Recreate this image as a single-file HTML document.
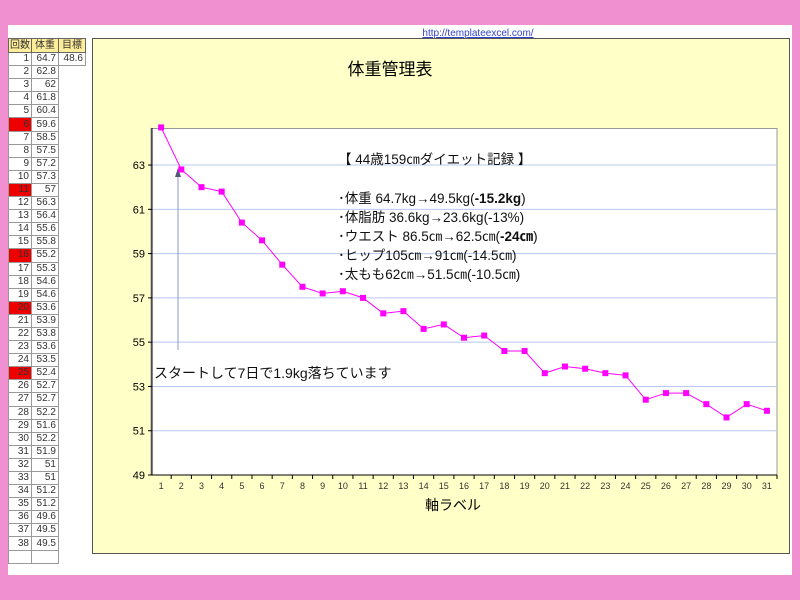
<!DOCTYPE html>
<html><head><meta charset="utf-8"><style>
body{margin:0;width:800px;height:600px;background:#f090d0;position:relative;overflow:hidden;font-family:"Liberation Sans","Noto Sans CJK JP",sans-serif}
#white{position:absolute;left:8px;top:25px;width:784px;height:550px;background:#fff}
table{position:absolute;left:8px;top:38px;border-collapse:collapse;font-size:10px;color:#333;table-layout:fixed}
td{border:1px solid #999;height:12px;padding:0 2px;text-align:right;line-height:12px;white-space:nowrap;overflow:hidden;box-sizing:border-box}
.h td{background:#ffee99;text-align:center;border-color:#666;height:14px;padding:0}
.r{background:#ee0000}
</style></head><body>
<div id="white"></div>
<table id="t"><colgroup><col style="width:23px"><col style="width:27px"><col style="width:27px"></colgroup></table>
<svg style="position:absolute;left:0;top:0" width="800" height="600" font-family="Liberation Sans, Noto Sans CJK JP, sans-serif">
<text x="478" y="36" font-size="10" fill="#3344cc" text-decoration="underline" text-anchor="middle">http://templateexcel.com/</text>
<rect x="92.5" y="38.5" width="697" height="515" fill="#ffffc8" stroke="#555"/>
<text x="390" y="75" font-size="17" fill="#000" text-anchor="middle">体重管理表</text>
<rect x="151" y="128.5" width="626" height="346.5" fill="#fff" stroke="#999"/>
<g id="g"></g>
<text x="453" y="510" font-size="14" text-anchor="middle">軸ラベル</text>
<g font-size="13.5" fill="#111">
<text x="338" y="164">【 44歳159㎝ダイエット記録 】</text>
<text x="338" y="203">･体重  64.7kg→49.5kg(<tspan font-weight="bold">-15.2kg</tspan>)</text>
<text x="338" y="222">･体脂肪  36.6kg→23.6kg(-13%)</text>
<text x="338" y="241">･ウエスト  86.5㎝→62.5㎝(<tspan font-weight="bold">-24㎝</tspan>)</text>
<text x="338" y="260">･ヒップ105㎝→91㎝(-14.5㎝)</text>
<text x="338" y="279">･太もも62㎝→51.5㎝(-10.5㎝)</text>
<text x="154" y="378" font-size="14">スタートして7日で1.9kg落ちています</text>
</g>
</svg>
<script>
var d=[64.7,62.8,62,61.8,60.4,59.6,58.5,57.5,57.2,57.3,57,56.3,56.4,55.6,55.8,55.2,55.3,54.6,54.6,53.6,53.9,53.8,53.6,53.5,52.4,52.7,52.7,52.2,51.6,52.2,51.9,51,51,51.2,51.2,49.6,49.5,49.5];
var t='<colgroup><col style="width:23px"><col style="width:27px"><col style="width:27px"></colgroup><tr class="h"><td>回数</td><td>体重</td><td>目標</td></tr>';
for(var i=0;i<38;i++){var r=[5,10,15,19,24].indexOf(i)>=0;t+='<tr style="height:13.1px"><td'+(r?' class="r"':'')+'>'+(i+1)+'</td><td>'+d[i]+'</td>'+(i==0?'<td>48.6</td>':'')+'</tr>';}
t+='<tr style="height:13px"><td>&nbsp;</td><td></td></tr>';
document.getElementById('t').innerHTML=t;
var s='',L=151,W=626/31,Y=function(v){return 475-(v-49)*22.14};
for(var v=51;v<=63;v+=2)s+='<line x1="151" x2="777" y1="'+Y(v)+'" y2="'+Y(v)+'" stroke="#b8c8f0"/>';
for(var v=49;v<=63;v+=2)s+='<text x="145" y="'+(Y(v)+4)+'" font-size="11" text-anchor="end">'+v+'</text><line x1="148" x2="152" y1="'+Y(v)+'" y2="'+Y(v)+'" stroke="#000"/>';
s+='<line x1="152" y1="128" x2="152" y2="475" stroke="#000"/><line x1="151" y1="475" x2="777" y2="475" stroke="#000"/>';
var p='';
for(var i=0;i<31;i++){var x=L+(i+0.5)*W;s+='<line x1="'+(L+(i+1)*W)+'" x2="'+(L+(i+1)*W)+'" y1="475" y2="479" stroke="#000"/><text x="'+x+'" y="489" font-size="9" fill="#333" text-anchor="middle">'+(i+1)+'</text>';p+=x+','+Y(d[i])+' ';}
s+='<line x1="178" y1="350" x2="178" y2="176" stroke="#8899cc"/><polygon points="178,168 175,177 181,177" fill="#557"/>';
s+='<polyline points="'+p+'" fill="none" stroke="#ff00ff" stroke-width="1"/>';
for(var i=0;i<31;i++){var x=L+(i+0.5)*W;s+='<rect x="'+(x-3)+'" y="'+(Y(d[i])-3)+'" width="6" height="6" fill="#ff00ff"/>';}
document.getElementById('g').innerHTML=s;
</script>
</body></html>
